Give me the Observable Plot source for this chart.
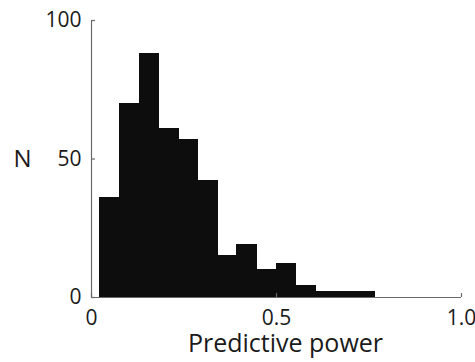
<!DOCTYPE html>
<html>
<head>
<meta charset="utf-8">
<script src="https://cdn.jsdelivr.net/npm/d3@7"></script>
<script src="https://cdn.jsdelivr.net/npm/@observablehq/plot@0.6"></script>
<style>
  html, body { margin: 0; padding: 0; background: #ffffff; }
</style>
</head>
<body>
<div id="chart"></div>
<script>
// Histogram bin edges (predictive power) and counts
const binEdges = [0.024, 0.077, 0.130, 0.183, 0.236, 0.289, 0.342, 0.394, 0.447, 0.500, 0.553, 0.606, 0.659, 0.712, 0.765];
const counts = [36, 70, 88, 61, 57, 42, 15, 19, 10, 12, 4, 2, 2, 2];
const xTicks = [0, 0.5, 1.0];
const xTickLabels = ["0", "0.5", "1.0"];
const yTicks = [0, 50, 100];
const xLabel = "Predictive power";
const yLabel = "N";

const bins = counts.map((c, i) => ({x1: binEdges[i], x2: binEdges[i + 1], n: c}));

const lineColor = "#6a6a6a";
const chart = Plot.plot({
  width: 475,
  height: 362,
  marginLeft: 91,
  marginRight: 14,
  marginTop: 20,
  marginBottom: 65,
  style: {fontFamily: "'Open Sans', sans-serif", fontSize: "21px", background: "#ffffff", color: "#1a1a1a"},
  x: {domain: [0, 1]},
  y: {domain: [0, 100]},
  marks: [
    Plot.rectY(bins, {x1: "x1", x2: "x2", y: "n", fill: "#0d0d0d", stroke: "#0d0d0d", strokeWidth: 1, shapeRendering: "crispEdges"}),
    // axis lines
    Plot.ruleX([0], {y1: 0, y2: 100, stroke: lineColor, strokeWidth: 1.2}),
    Plot.ruleY([0], {x1: 0, x2: 1, stroke: lineColor, strokeWidth: 1.2}),
    // inward ticks
    Plot.ruleY(yTicks, {x1: 0, x2: 0, insetRight: -4, stroke: lineColor, strokeWidth: 1.2}),
    Plot.ruleX(xTicks, {y1: 0, y2: 0, insetTop: -4, stroke: lineColor, strokeWidth: 1.2}),
    Plot.axisY({ticks: yTicks, tickSize: 0, tickPadding: 10, label: null, fill: "#1a1a1a"}),
    Plot.axisX({ticks: xTicks, tickFormat: (d, i) => xTickLabels[i], tickSize: 0, tickPadding: 13, label: null, fill: "#1a1a1a"}),
    Plot.text([xLabel], {frameAnchor: "bottom", text: d => d, dy: 46, dx: 9, lineAnchor: "middle", fontSize: 25, fill: "#1a1a1a"}),
    Plot.text([yLabel], {frameAnchor: "left", text: d => d, textAnchor: "middle", dx: -69, lineAnchor: "middle", fontSize: 24, fill: "#1a1a1a"})
  ]
});
document.getElementById("chart").appendChild(chart);
</script>
</body>
</html>
